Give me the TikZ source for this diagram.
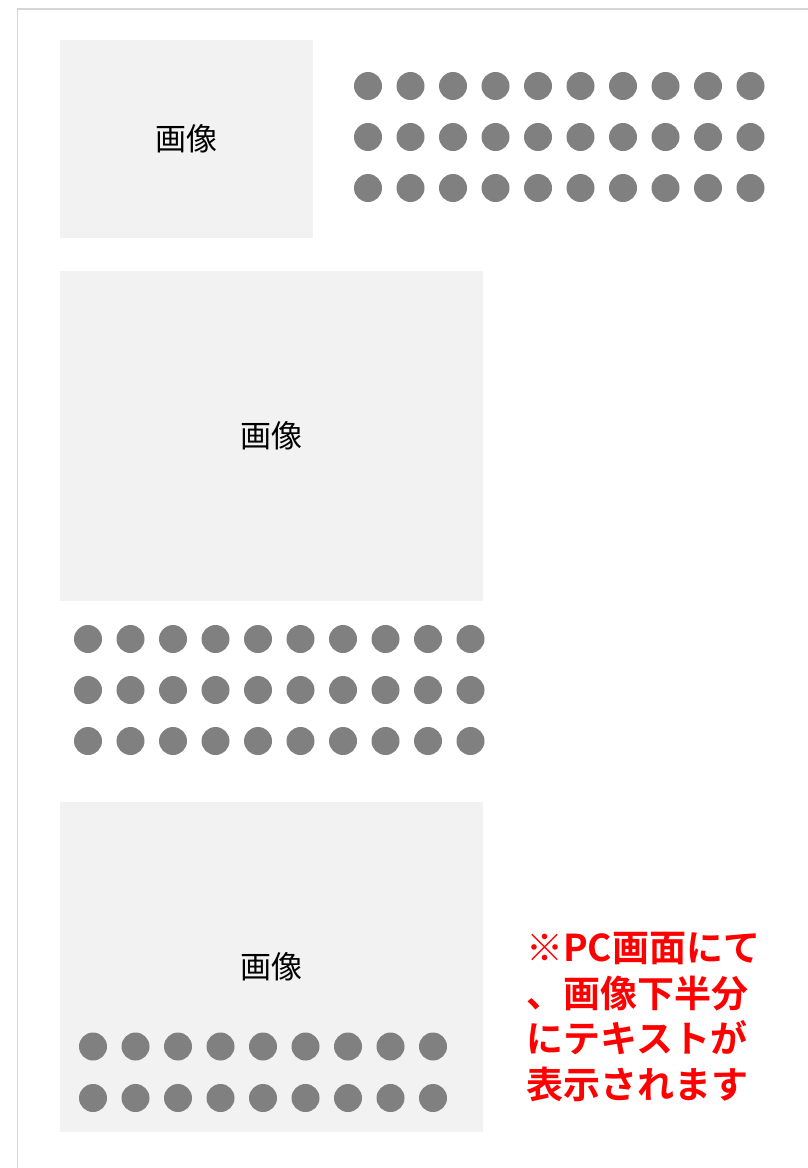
\documentclass[tikz,border=0pt]{standalone}
\usepackage{fontspec}
\newfontfamily\jpfont[BoldFont={Noto Sans CJK JP Bold}]{Noto Sans CJK JP}
\usepackage{tikz}
\definecolor{panelgray}{HTML}{F2F2F2}
\definecolor{dotgray}{HTML}{808080}
\definecolor{framegray}{HTML}{D6D6D6}
\definecolor{notered}{HTML}{FF0000}
\tikzset{
  imgbox/.style={fill=panelgray, inner sep=0pt, font=\jpfont\fontsize{31}{36}\selectfont},
  dot/.style={circle, fill=dotgray, minimum size=28pt, inner sep=0pt},
  note/.style={text=notered, align=left, inner sep=0pt, font=\jpfont\bfseries\fontsize{37}{45.5}\selectfont}
}

\begin{document}
\begin{tikzpicture}[x=1pt, y=-1pt]
  \useasboundingbox (0,0) rectangle (808,1168);
  % outer frame
  \draw[framegray, line width=1.4pt] (17.5,1170) |- (810,9);

  % image boxes
  \node (img1) [imgbox, minimum width=253pt, minimum height=198pt] at (186.5,139) {画像};
  \node (img2) [imgbox, minimum width=423pt, minimum height=330pt] at (271.5,436) {画像};
  \node (img3) [imgbox, minimum width=423pt, minimum height=330pt] at (271.5,967) {画像};

  % dot rows
  \foreach \r/\y in {1/86, 2/137, 3/188}
    \foreach \c in {0,...,9}
      \node (a-\r-\c) [dot] at (368+42.5*\c, \y) {};
  \foreach \r/\y in {1/639, 2/690, 3/741}
    \foreach \c in {0,...,9}
      \node (b-\r-\c) [dot] at (88+42.5*\c, \y) {};
  \foreach \r/\y in {1/1046.5, 2/1098}
    \foreach \c in {0,...,8}
      \node (c-\r-\c) [dot] at (93+42.5*\c, \y) {};

  % note
  \node (note) [note, anchor=west] at (526,1017)
    {※PC画面にて\\、画像下半分\\にテキストが\\表示されます};
\end{tikzpicture}
\end{document}
